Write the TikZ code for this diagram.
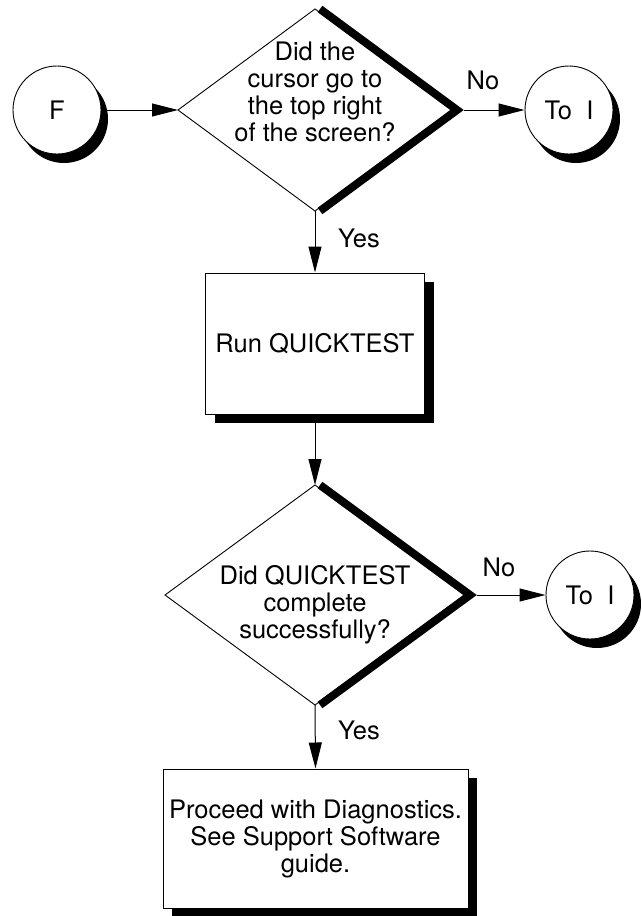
\documentclass[tikz,border=0pt]{standalone}
\usepackage{fontspec}
\setmainfont{TeX Gyre Heros}
\usetikzlibrary{shapes.geometric,arrows.meta,shadows}
\begin{document}
\begin{tikzpicture}[x=1pt,y=-1pt,
  every node/.style={font=\fontsize{25.5}{27}\selectfont, inner sep=0pt},
  thin/.style={draw, line width=0.9pt, fill=white},
  term/.style={circle, thin, minimum size=88pt, outer sep=0.5pt,
    drop shadow={shadow xshift=7pt, shadow yshift=-9pt, fill=black, fill opacity=1, draw=none}},
  proc/.style={rectangle, thin, align=center, outer sep=0.5pt,
    drop shadow={shadow xshift=9pt, shadow yshift=-9pt, fill=black, fill opacity=1, draw=none}},
  decision/.style={diamond, thin, outer sep=0pt},
  band/.style={line width=8pt, line join=miter},
  flow/.style={line width=1pt, -{Triangle[length=26pt,width=13pt]}},
  txt/.style={align=center}]

\fill[white] (0,0) rectangle (641,916);
\useasboundingbox (0,0) rectangle (641,916);

% first decision row
\node[term] (f) at (57,110) {F};
\node[decision, minimum width=274pt, minimum height=202pt] (d1) at (315,110) {};
\draw[band] ([xshift=5pt]d1.north) -- ([xshift=5pt]d1.east) -- ([xshift=5pt]d1.south);
\node[txt] (d1t) at (315,92) {Did the\\cursor go to\\the top right\\of the screen?};
\coordinate (d1x) at ([xshift=12pt]d1.east);
\node[term] (i1) at (569,110) {To~~I};
\node (no1) at (483,80) {No};
\draw[flow] (f) -- (d1.west);
\draw[flow] (d1x) -- (i1.west);

% quicktest step
\node[proc, minimum width=219pt, minimum height=141pt] (b1) at (315,343.5) {Run QUICKTEST};
\node (yes1) at (359,238) {Yes};
\draw[flow] (d1.south) -- (b1.north);

% second decision row
\node[decision, minimum width=300pt, minimum height=220pt] (d2) at (315,595) {};
\draw[band] ([xshift=5pt]d2.north) -- ([xshift=5pt]d2.east) -- ([xshift=5pt]d2.south);
\node[txt] (d2t) at (315,605) {Did QUICKTEST\\complete\\successfully?};
\coordinate (d2x) at ([xshift=12pt]d2.east);
\node[term] (i2) at (590,595) {To~~I};
\node (no2) at (499,567) {No};
\draw[flow] (b1.south) -- (d2.north);
\draw[flow] (d2x) -- (i2.west);

% final step
\node[proc, minimum width=305pt, minimum height=139pt] (b2) at (315.5,838.5)
  {Proceed with Diagnostics.\\See Support Software\\guide.};
\node (yes2) at (359,730) {Yes};
\draw[flow] (d2.south) -- (b2.north);
\end{tikzpicture}
\end{document}
